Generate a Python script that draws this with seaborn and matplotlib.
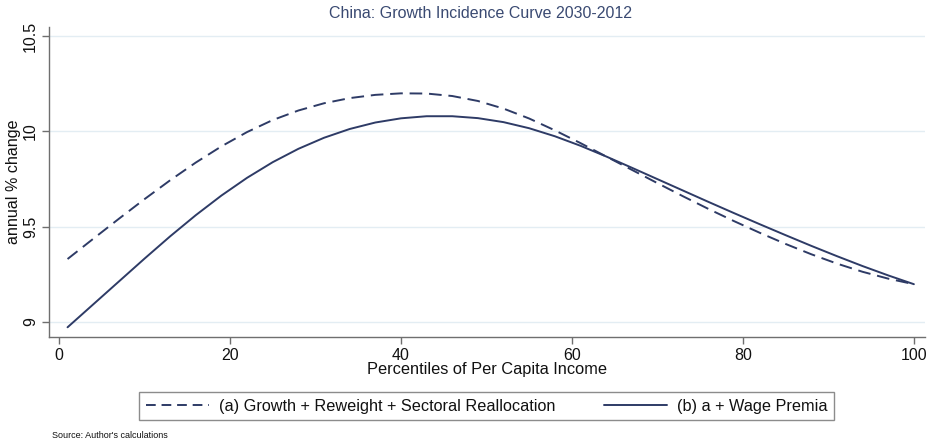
import numpy as np
import pandas as pd
import seaborn as sns
import matplotlib
matplotlib.use("Agg")
import matplotlib.pyplot as plt
from matplotlib.lines import Line2D

# Percentiles of per capita income
percentiles = [1, 4, 7, 10, 13, 16, 19, 22, 25, 28, 31, 34, 37, 40, 43, 46, 49,
               52, 55, 58, 61, 64, 67, 70, 73, 76, 79, 82, 85, 88, 91, 94, 97, 100]

# (a) Growth + Reweight + Sectoral Reallocation (annual % change)
series_a = [9.330, 9.436, 9.541, 9.644, 9.743, 9.836, 9.921, 9.996, 10.059, 10.109,
            10.147, 10.174, 10.191, 10.199, 10.198, 10.185, 10.159, 10.119, 10.067,
            10.005, 9.938, 9.868, 9.798, 9.728, 9.659, 9.592, 9.528, 9.467, 9.409,
            9.355, 9.306, 9.263, 9.227, 9.198]

# (b) a + Wage Premia (annual % change)
series_b = [8.972, 9.092, 9.212, 9.332, 9.449, 9.560, 9.663, 9.756, 9.838, 9.908,
            9.966, 10.012, 10.046, 10.068, 10.079, 10.079, 10.069, 10.048, 10.016,
            9.974, 9.924, 9.868, 9.809, 9.749, 9.689, 9.629, 9.570, 9.512, 9.455,
            9.399, 9.345, 9.293, 9.244, 9.198]

label_a = "(a) Growth + Reweight + Sectoral Reallocation"
label_b = "(b) a + Wage Premia"

title = "China: Growth Incidence Curve 2030-2012"
xlabel = "Percentiles of Per Capita Income"
ylabel = "annual % change"
source = "Source: Author's calculations"

x_ticks = [0, 20, 40, 60, 80, 100]
y_ticks = [9, 9.5, 10, 10.5]
y_tick_labels = ["9", "9.5", "10", "10.5"]

df = pd.DataFrame({
    "pct": percentiles * 2,
    "value": series_a + series_b,
    "series": [label_a] * len(percentiles) + [label_b] * len(percentiles),
})

sns.set_theme(style="white")
plt.rcParams["font.family"] = ["Liberation Sans", "DejaVu Sans"]

line_color = "#2e3b66"
grid_color = "#e3edf3"
spine_color = "#6f6f6f"

fig = plt.figure(figsize=(9.36, 4.44), dpi=100)
ax = fig.add_axes([49 / 936, 1 - 337 / 444, (925 - 49) / 936, (337 - 27) / 444])

for y in y_ticks:
    ax.axhline(y, color=grid_color, lw=1.0, zorder=0)

sns.lineplot(data=df[df["series"] == label_a], x="pct", y="value", ax=ax,
             color=line_color, lw=1.4, legend=False,
             linestyle=(0, (6.5, 3.5)))
sns.lineplot(data=df[df["series"] == label_b], x="pct", y="value", ax=ax,
             color=line_color, lw=1.4, legend=False)

ax.set_xlim(-1.17, 101.3)
ax.set_ylim(8.921, 10.547)
ax.set_xticks(x_ticks)
ax.set_yticks(y_ticks)
ax.set_yticklabels(y_tick_labels)

for side in ["top", "right"]:
    ax.spines[side].set_visible(False)
for side in ["left", "bottom"]:
    ax.spines[side].set_color(spine_color)
    ax.spines[side].set_linewidth(1.0)

ax.tick_params(axis="both", which="major", direction="out", length=5, width=1.0,
               color=spine_color, labelsize=11.5, labelcolor="#111111", pad=3,
               left=True, bottom=True)
for lab in ax.get_yticklabels():
    lab.set_rotation(90)
    lab.set_va("center")
    lab.set_ha("right")

ax.set_xlabel(xlabel, fontsize=11.8, color="#111111", labelpad=-1)
ax.set_ylabel(ylabel, fontsize=11.6, color="#111111", labelpad=1)

fig.text(481 / 936, 1 - 14 / 444, title, ha="center", va="center",
         fontsize=11.5, color="#3a4a72")

handles = [
    Line2D([0], [0], color=line_color, lw=1.4, linestyle=(0, (5, 3))),
    Line2D([0], [0], color=line_color, lw=1.4),
]
leg = fig.legend(handles, [label_a, label_b], loc="center", ncol=2,
                 bbox_to_anchor=(486.5 / 936, 1 - 406 / 444),
                 fontsize=11.7, frameon=True, fancybox=False,
                 edgecolor="#707070", handlelength=3.9, handletextpad=0.6,
                 columnspacing=3.0, borderpad=0.4)
leg.get_frame().set_linewidth(1.0)
for t in leg.get_texts():
    t.set_color("#111111")

fig.text(52 / 936, 1 - 435 / 444, source, ha="left", va="center",
         fontsize=6.5, color="#111111")

fig.savefig("out.png", dpi=100, facecolor="white")
